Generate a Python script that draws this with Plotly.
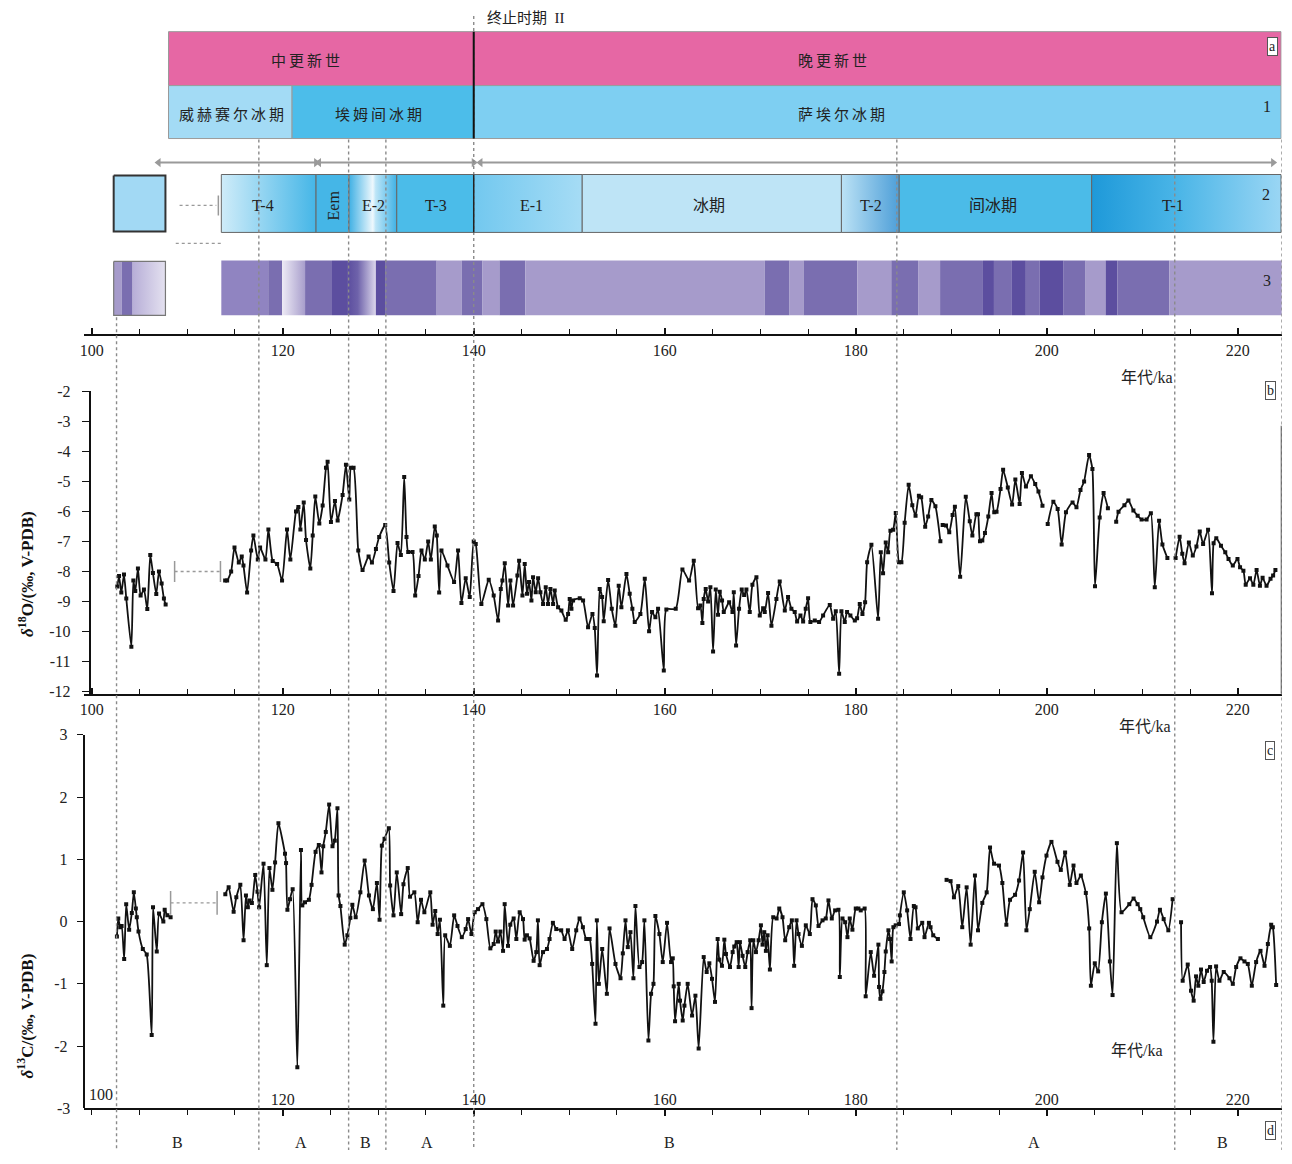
import plotly.graph_objects as go

# page is 1292x1164; the browser's default 8px body margin is kept, so the figure is 16px smaller
PAGE_W, PAGE_H, OFF = 1292, 1164, 8
FW, FH = PAGE_W - 2 * OFF, PAGE_H - 2 * OFF
# measured vertical calibration of the rendered page (rendered_row = K * page_row + C)
K, C = 0.989, 8.4

# ---------------- data: delta 18O (ka, permil) ----------------
o18_s1_age = [102.68, 102.86, 103.1, 103.38, 103.62, 104.15, 104.36, 104.56, 104.84, 105.12, 105.47,
              105.82, 106.13, 106.41, 106.76, 107.04, 107.32, 107.56, 107.74]
o18_s1_val = [-8.5, -8.15, -8.7, -8.1, -8.9, -10.5, -8.3, -8.65, -7.9, -8.8, -8.6,
              -9.25, -7.45, -8.05, -8.75, -8.0, -8.4, -8.9, -9.1]

o18_s2_age = [113.97, 114.18, 114.6, 114.95, 115.4, 115.71, 115.89, 116.27, 116.69, 116.93,
              117.39, 117.63, 118.19, 118.5, 118.95, 119.41, 119.93, 120.45, 120.8, 121.39,
              121.64, 121.85, 122.2, 122.44, 122.89, 123.14, 123.41, 123.83, 124.18, 124.53,
              124.7, 125.05, 125.47, 125.75, 126.27, 126.62, 126.97, 127.14, 127.42, 127.91,
              128.36, 128.99, 129.34, 129.76, 130.1, 130.73, 131.15, 131.6, 132.02, 132.37,
              132.72, 132.96, 133.14, 133.59, 133.87, 134.22, 134.53, 134.88, 135.23, 135.51,
              135.92, 136.13, 136.38, 136.62, 137.25, 137.94, 138.36, 138.71,
              139.16, 139.58, 140.0, 140.21, 140.8, 141.57, 142.09, 142.55, 142.83, 143.0,
              143.25, 143.6, 143.84, 144.12, 144.57, 144.75, 145.1, 145.34, 145.58, 145.79,
              146.04, 146.21, 146.49, 146.74, 146.98, 147.26, 147.54, 147.78, 148.03, 148.31,
              148.48, 148.83, 149.18, 149.63, 149.88, 150.05, 150.23, 150.4, 151.1, 151.45,
              151.97, 152.43, 152.67, 152.91, 153.19, 153.44, 153.61, 154.07, 154.45, 154.83,
              155.18, 155.46, 155.99, 156.33, 156.61, 156.86, 157.45, 157.91, 158.36, 158.67,
              159.02, 159.3, 159.9, 160.17, 161.15, 161.85, 162.55, 163.04, 163.49, 163.73,
              163.94, 164.08, 164.29, 164.54, 164.78, 165.06, 165.34, 165.58, 165.76, 166.0,
              166.18, 166.74, 167.09, 167.23, 167.47, 167.78, 168.06, 168.31, 168.55, 168.9,
              169.18, 169.6, 169.95, 170.3, 170.47, 170.82, 171.17, 171.69, 172.04, 172.57,
              172.91, 173.26, 173.61, 173.86, 174.21, 174.49, 174.76, 175.01, 175.25, 175.71,
              176.16, 176.58, 177.28, 177.63, 177.91, 178.26, 178.5, 178.85, 179.09, 179.44,
              179.9, 180.14, 180.42, 180.7, 180.98, 181.19, 181.64, 182.34, 182.62, 182.86,
              183.14, 183.39, 183.63, 183.91, 184.19,
              184.53, 184.78, 185.12, 185.54, 185.92, 186.26, 186.61, 186.85, 187.27, 187.58,
              187.92, 188.34, 188.86]
o18_s2_val = [-8.3, -8.3, -8.0, -7.2, -7.7, -7.5, -7.8, -8.7, -7.3, -6.8,
              -7.6, -7.2, -7.6, -6.6, -7.65, -7.75, -8.3, -6.6, -7.6, -6.0,
              -5.85, -6.6, -5.7, -6.95, -7.9, -6.8, -5.5, -6.4, -5.8, -4.55,
              -4.35, -6.35, -5.65, -6.3, -5.45, -4.45, -5.6, -4.55, -4.55, -7.3,
              -7.95, -7.5, -7.7, -7.25, -6.85, -6.45, -7.7, -8.65, -7.05, -7.45,
              -4.85, -6.85, -7.35, -7.35, -8.8, -8.15, -7.3, -7.6, -7.0, -7.6,
              -6.5, -6.8, -8.7, -7.3, -7.8, -8.35, -7.3, -9.05,
              -8.22, -8.85, -7.0, -7.08, -9.08, -8.27, -8.8, -9.63, -8.58, -8.3,
              -7.72, -9.13, -8.3, -9.13, -8.13, -7.64, -8.8, -7.75, -8.74, -8.35,
              -8.96, -8.19, -8.69, -8.22, -8.69, -9.08, -8.52, -9.08, -8.58, -9.08,
              -8.63, -9.19, -9.3, -9.6, -9.41, -8.91, -9.24, -8.96, -8.89, -8.96,
              -9.85, -9.41, -9.88, -11.46, -8.58, -8.85, -9.65, -8.28, -9.24, -9.8,
              -8.47, -9.19, -8.08, -8.74, -9.24, -9.68, -9.41, -8.24, -9.99, -9.35,
              -9.52, -9.24, -11.29, -9.26, -9.24, -7.93, -8.3, -7.64, -9.22, -9.13,
              -9.71, -8.91, -8.58, -9.0, -8.52, -10.66, -8.6, -9.44, -8.67, -8.96,
              -9.35, -9.02, -9.35, -8.69, -10.46, -9.24, -8.6, -8.78, -8.6, -9.35,
              -8.44, -8.19, -9.46, -9.22, -9.35, -8.71, -9.8, -8.91, -8.33, -9.3,
              -8.85, -9.24, -9.35, -9.66, -9.46, -9.66, -9.24, -8.89, -9.68, -9.63,
              -9.68, -9.46, -9.11, -9.57, -9.32, -11.4, -9.32, -9.68, -9.35, -9.46,
              -9.63, -9.55, -9.08, -9.41, -9.02, -7.69, -7.11, -9.57, -7.36, -8.06,
              -7.03, -7.36, -6.64, -6.61, -6.05,
              -7.69, -7.69, -6.38, -5.11, -5.79, -6.14, -5.48, -5.53, -6.51, -6.17,
              -5.62, -5.83, -6.99]

o18_s3_age = [189.1, 189.45, 189.79, 190.14, 190.38, 190.93, 191.52, 191.94, 192.21, 192.63,
              192.8, 193.01, 193.25, 193.53, 193.88, 194.22, 194.5, 194.74, 195.16, 195.43,
              195.92, 196.37, 196.71, 197.16, 197.4, 197.82, 198.34, 198.79, 199.13, 199.55]
o18_s3_val = [-6.45, -6.47, -6.69, -6.12, -5.84, -8.17, -5.51, -6.33, -6.8, -6.09,
              -6.09, -6.99, -6.97, -6.72, -6.17, -5.39, -6.03, -6.01, -5.25, -4.61,
              -5.2, -5.77, -4.94, -5.75, -4.72, -5.17, -4.83, -5.09, -5.34, -5.81]

o18_s4_age = [200.1, 200.69, 201.14, 201.56, 202.01, 202.7, 203.11, 203.53, 203.91, 204.43,
              204.78, 205.05, 205.54, 205.95, 206.4]
o18_s4_val = [-6.42, -5.68, -5.92, -7.1, -6.03, -5.7, -5.86, -5.29, -5.0, -4.12,
              -4.59, -8.49, -6.2, -5.39, -5.89]

o18_s5_age = [207.27, 207.51, 208.13, 208.55, 209.07, 209.52, 209.93, 210.45, 210.9, 211.31,
              211.76, 212.11, 212.63]
o18_s5_val = [-6.34, -6.01, -5.79, -5.64, -5.97, -6.14, -6.27, -6.27, -6.06, -8.52,
              -6.31, -7.1, -7.55]

o18_s6_age = [213.49, 213.91, 214.19, 214.43, 214.88, 215.29, 215.67, 216.02, 216.37, 216.89,
              217.3, 217.47, 217.75, 218.24, 218.69, 219.03, 219.48, 219.97, 220.24, 220.59,
              220.83, 221.28, 221.63, 221.97, 222.32, 222.6, 223.01, 223.43, 223.7, 223.94]
o18_s6_val = [-7.55, -6.84, -7.41, -7.72, -7.03, -7.47, -7.17, -6.67, -7.08, -6.61,
              -8.72, -7.06, -6.89, -7.14, -7.36, -7.58, -7.8, -7.58, -7.86, -7.97,
              -8.44, -8.22, -8.44, -7.95, -8.47, -8.21, -8.47, -8.24, -8.13, -7.95]

# ---------------- data: delta 13C (ka, permil) ----------------
c13_s1_age = [102.64, 102.78, 102.99, 103.13, 103.4, 103.61, 103.92, 104.2, 104.41, 104.62,
              104.72, 104.9, 105.35, 105.76, 106.28, 106.42, 106.81, 107.05, 107.5, 107.64,
              107.92, 108.26]
c13_s1_val = [-0.24, 0.05, -0.09, -0.07, -0.6, 0.28, -0.13, 0.14, 0.47, 0.21,
              0.07, -0.16, -0.44, -0.53, -1.82, 0.23, -0.48, 0.13, 0.0, 0.19,
              0.1, 0.07]

c13_s2_age = [113.99, 114.34, 114.86, 115.14, 115.56, 115.9, 116.15, 116.35, 116.53, 116.77,
              117.12, 117.36, 117.53, 117.99, 118.33, 118.61, 118.92, 119.2, 119.55, 120.24,
              120.35, 120.49, 120.76, 121.04, 121.53, 121.91, 122.05, 122.33, 122.74, 123.02,
              123.44, 123.78, 124.06, 124.24, 124.51, 124.86, 125.21, 125.45, 125.73, 125.85,
              126.04, 126.49, 126.77, 127.08, 127.29, 127.64, 128.13, 128.58, 129.03, 129.44,
              129.86, 130.14, 130.38, 130.66, 131.11, 131.25, 131.6, 131.94, 132.4, 132.64,
              133.09, 133.33, 133.78, 134.13, 134.48, 134.83, 135.45, 135.69, 135.97, 136.22,
              136.46, 136.81, 137.01, 137.5, 137.95, 138.3, 138.75,
              139.16, 139.41, 139.76, 140.1, 140.45, 140.91, 141.32, 141.74, 142.09, 142.3,
              142.54, 142.79, 143.07, 143.24, 143.59, 143.83, 144.18, 144.46, 144.81, 145.16,
              145.33, 145.57, 145.85, 146.27, 146.55, 146.72, 146.9, 147.25, 147.67, 147.94,
              148.29, 148.64, 149.16, 149.51, 149.86, 150.31, 150.73, 151.08, 151.43, 151.78,
              152.13, 152.4, 152.75, 152.89, 153.1, 153.45, 153.94, 154.22, 154.84, 155.37,
              155.61, 155.89, 156.13, 156.41, 156.72, 156.93, 157.35, 157.63, 157.87, 158.29,
              158.57, 158.82, 159.02, 159.44, 159.79, 160.24, 160.66, 160.84, 160.94, 161.08,
              161.46, 161.6, 161.88, 162.06, 162.4, 162.86, 163.21, 163.55, 164.08, 164.39,
              164.67, 164.95, 165.26, 165.54, 165.71, 165.99, 166.24, 166.41, 166.83, 167.11,
              167.28, 167.53, 167.74, 167.87, 168.15, 168.43, 168.68, 168.95, 169.09, 169.27,
              169.55, 169.83, 170.07, 170.24, 170.42, 170.59, 170.77, 171.01, 171.36, 171.71,
              171.99, 172.33, 172.61, 173.03, 173.31, 173.55, 173.8, 174.01, 174.36, 174.77,
              175.19, 175.47, 175.82, 176.1, 176.52, 176.86, 177.14, 177.49, 177.84, 178.19,
              178.33, 178.61, 178.89, 179.13, 179.37, 179.65, 180.0, 180.28, 180.52, 180.93,
              181.04, 181.57, 181.92, 182.37, 182.44, 182.58, 182.79, 183.0, 183.14, 183.42,
              183.59, 183.76, 183.94, 184.18, 184.53, 184.62, 185.03, 185.38, 185.73, 186.08,
              186.26, 186.5, 186.96, 187.2, 187.66, 187.83, 188.11, 188.6]
c13_s2_val = [0.44, 0.55, 0.16, 0.39, 0.59, -0.3, 0.42, 0.23, 0.34, 0.3,
              0.75, 0.48, 0.23, 0.93, -0.7, 0.86, 0.51, 0.95, 1.58, 1.09,
              0.94, 0.19, 0.36, 0.52, -2.34, 1.15, 0.26, 0.31, 0.35, 0.59,
              1.12, 1.23, 0.79, 1.21, 1.44, 1.88, 1.21, 1.3, 1.82, 0.42,
              0.25, -0.37, -0.22, 0.06, 0.27, 0.07, 0.47, 0.98, 0.42, 0.2,
              0.62, 0.03, 1.22, 1.33, 1.5, 0.58, 0.1, 0.79, 0.12, 0.6,
              0.86, 0.4, 0.47, -0.01, 0.35, 0.15, 0.47, -0.05, 0.17, -0.2,
              0.03, -1.35, -0.22, -0.39, 0.1, -0.07, -0.25,
              -0.12, 0.04, -0.2, 0.15, 0.2, 0.28, 0.04, -0.43, -0.36, -0.16,
              -0.32, -0.16, -0.47, 0.28, -0.39, -0.05, 0.05, -0.28, 0.15, 0.04,
              -0.29, -0.22, -0.27, -0.63, -0.49, 0.02, -0.7, -0.49, -0.44, -0.28,
              -0.02, -0.12, -0.14, -0.28, -0.14, -0.44, -0.14, 0.05, -0.09, -0.28,
              -0.28, -0.68, -1.64, 0.02, -1.0, -0.44, -1.16, -0.11, -0.68, -0.91,
              -0.51, 0.02, -0.41, -0.17, -0.91, 0.25, -0.73, -0.65, 0.02, -1.91,
              -1.16, -1.0, 0.09, -0.2, -0.65, -0.02, -0.65, -0.59, -1.04, -1.6,
              -1.0, -1.27, -1.59, -1.35, -1.0, -1.51, -1.19, -2.04, -0.57, -0.81,
              -0.67, -0.92, -1.29, -0.28, -0.61, -0.71, -0.29, -0.52, -0.73, -0.49,
              -0.4, -0.33, -0.73, -0.33, -0.55, -0.73, -0.49, -0.3, -1.39, -0.3,
              -0.49, -0.3, -0.06, -0.37, -0.17, -0.47, -0.22, -0.77, 0.07, 0.05,
              0.21, 0.07, -0.3, -0.09, 0.02, -0.71, 0.02, -0.2, -0.39, -0.06,
              -0.2, 0.36, 0.26, -0.07, 0.02, 0.05, 0.34, 0.05, 0.18, 0.19,
              -0.89, 0.05, -0.01, -0.25, 0.05, -0.13, 0.21, 0.21, 0.18, 0.21,
              -1.2, -0.49, -0.87, -0.37, -1.05, -1.24, -1.12, -0.81, -0.48, -0.14,
              -0.28, -0.64, -0.09, -0.06, -0.04, 0.1, 0.47, 0.18, -0.28, 0.25,
              0.23, -0.11, -0.02, -0.25, -0.02, -0.09, -0.22, -0.28]

c13_s3_age = [189.51, 189.93, 190.28, 190.73, 191.15, 191.61, 192.03, 192.48, 192.8, 193.25,
              193.71, 194.06, 194.48, 195.0, 195.35, 195.77, 196.15, 196.68, 197.1, 197.52,
              197.87, 198.22, 198.74, 199.2, 199.55, 199.97, 200.49, 201.12, 201.47, 201.92,
              202.41, 202.8, 203.11, 203.57, 204.09, 204.44, 204.62, 205.03, 205.38, 205.77,
              206.19, 206.61, 206.89, 207.34, 207.83, 208.64, 209.09, 209.51, 209.79, 210.1,
              210.84, 211.54, 211.85, 212.24, 212.73, 213.18]
c13_s3_val = [0.67, 0.65, 0.39, 0.57, -0.09, 0.55, -0.37, 0.74, -0.14, 0.3,
              0.47, 1.19, 0.93, 0.9, 0.62, -0.05, 0.35, 0.43, 0.66, 1.11,
              -0.14, 0.2, 0.8, 0.31, 0.71, 1.06, 1.28, 0.96, 0.83, 1.11,
              0.59, 0.9, 0.62, 0.74, 0.46, -0.11, -1.03, -0.67, -0.8, -0.01,
              0.45, -0.64, -1.18, 1.26, 0.15, 0.28, 0.37, 0.28, 0.2, 0.07,
              -0.25, 0.0, 0.19, 0.04, -0.14, 0.36]

c13_s4_age = [214.06, 214.23, 214.76, 215.1, 215.38, 215.63, 215.87, 216.15, 216.43, 216.78,
              217.1, 217.27, 217.45, 217.73, 218.08, 218.53, 219.13, 219.48, 219.83, 220.28,
              220.7, 221.05, 221.47, 221.92, 222.38, 222.8, 223.15, 223.5, 223.67, 224.02]
c13_s4_val = [-0.01, -0.95, -0.69, -1.11, -1.27, -0.88, -1.03, -0.77, -0.97, -0.79,
              -0.73, -0.95, -1.93, -0.72, -0.95, -0.81, -0.91, -1.0, -0.73, -0.59,
              -0.64, -0.68, -1.03, -0.65, -0.47, -0.71, -0.36, -0.05, -0.09, -1.02]

# unsampled interval markers (age from, age to, level)
o18_gap = [108.68, 113.48, -8.0]
c13_gap = [108.26, 113.13, 0.3]

# ---------------- stratigraphy ----------------
epoch_names = ["中\u2009更\u2009新\u2009世", "晚\u2009更\u2009新\u2009世"]
epoch_bounds = [108.04, 140.0, 224.53]
epoch_label_x = [122.34, 177.56]

stage_names = ["威\u2009赫\u2009赛\u2009尔\u2009冰\u2009期", "埃\u2009姆\u2009间\u2009冰\u2009期",
               "萨\u2009埃\u2009尔\u2009冰\u2009期"]
stage_bounds = [108.04, 120.98, 140.0, 224.53]
stage_label_x = [114.6, 130.06, 178.5]
stage_colors = ["#A3DBF5", "#4CBDEA", "#7ECFF2"]

sub_names = ["T-4", "Eem", "E-2", "T-3", "E-1", "冰期", "T-2", "间冰期", "T-1"]
sub_bounds = [113.57, 123.49, 126.93, 131.94, 139.98, 151.36, 178.5, 184.55, 204.7, 224.53]
sub_label_x = [117.95, 125.26, 129.54, 136.01, 146.03, 164.61, 181.63, 194.36, 213.26]
sub_scales = [
    [[0, "#CFECF9"], [1, "#45B6E7"]],
    [[0, "#45B6E7"], [1, "#45B6E7"]],
    [[0, "#3FB0E4"], [0.5, "#EEF8FD"], [0.56, "#BDE5F7"], [1, "#40B2E5"]],
    [[0, "#4BBCE9"], [1, "#4BBCE9"]],
    [[0, "#72C8EF"], [1, "#A6DCF5"]],
    [[0, "#BEE4F6"], [1, "#BEE4F6"]],
    [[0, "#BCE2F5"], [1, "#4E9FD8"]],
    [[0, "#4BBBE8"], [1, "#4BBBE8"]],
    [[0, "#1E99D9"], [0.45, "#4AB5E7"], [1, "#9AD6F4"]],
]

band3_bounds = [113.57, 118.48, 119.94, 122.34, 125.16, 126.83, 129.75, 130.79, 136.12, 138.73,
                140.92, 142.69, 145.41, 170.46, 173.07, 174.53, 180.17, 183.72, 186.53, 188.83,
                193.32, 194.47, 196.35, 197.81, 199.27, 201.77, 204.07, 206.16, 207.41, 212.84,
                224.63]
band3_kind = ["ML", "M", "gL", "M", "D", "gD", "D", "M", "L", "M",
              "L", "M", "L", "M", "L", "M", "L", "M", "L", "M",
              "D", "M", "D", "M", "D", "M", "L", "D", "M", "L"]
purple = {
    "L": [[0, "#A69BCB"], [1, "#A69BCB"]],
    "M": [[0, "#7A6EB0"], [1, "#7A6EB0"]],
    "D": [[0, "#5C4E9F"], [1, "#5C4E9F"]],
    "ML": [[0, "#9084C1"], [1, "#9084C1"]],
    "gL": [[0, "#EDEAF5"], [1, "#A89ECC"]],
    "gD": [[0, "#5C4E9F"], [0.35, "#6E62AA"], [1, "#DCD7EC"]],
    "gLeg": [[0, "#B7AED7"], [1, "#E4E1F0"]],
}
legend3_bounds = [102.3, 103.13, 104.28, 107.72]
legend3_kind = ["L", "M", "gLeg"]

boundary_ages = [102.6, 117.5, 126.9, 130.8, 140.0, 184.3, 213.4, 224.6]
boundary_top = [318, 140, 140, 140, 0, 140, 140, 140]

arrow_spans = [[107.0, 123.5], [123.8, 140.0], [140.7, 223.7]]

zone_labels = ["B", "A", "B", "A", "B", "A", "B"]
zone_x = [108.98, 121.92, 128.71, 135.07, 160.54, 198.64, 218.37]

tick_vals = [100, 120, 140, 160, 180, 200, 220]
tick_text = [str(v) for v in tick_vals]
o18_ticks = list(range(-2, -13, -1))
c13_ticks = list(range(3, -4, -1))

# ---------------- helpers ----------------
SERIF = "Liberation Serif, Noto Sans CJK SC, serif"
CJK = "Noto Sans CJK SC, Liberation Serif, sans-serif"

TOP_AXIS_ROW = 335
TOP_ROW = OFF * K + C   # reference row that lands on the top edge of the figure


def xp(px):
    """reference pixel column -> paper fraction"""
    return (px - OFF) / FW


def yp(px):
    """reference pixel row -> paper fraction"""
    page_row = (px - C) / K
    return 1 - (page_row - OFF) / FH


def join(*segs):
    xs, ys = [], []
    for i, (a, v) in enumerate(segs):
        assert len(a) == len(v), (i, len(a), len(v))
        if i:
            xs.append(None)
            ys.append(None)
        xs += a
        ys += v
    return xs, ys


def band(x0, x1, y0, y1, scale, lc="rgba(80,80,80,0.85)", lw=1):
    return go.Scatter(x=[x0, x1, x1, x0, x0], y=[y0, y0, y1, y1, y0], mode="lines",
                      fill="toself", fillcolor=scale[0][1],
                      fillgradient=dict(type="horizontal", colorscale=scale),
                      line=dict(color=lc, width=lw), hoverinfo="skip",
                      showlegend=False, xaxis="x", yaxis="y")


X_RANGE = [99.2, 224.6]
X_DOMAIN = [xp(80.3), xp(1281.7)]

fig = go.Figure()

for i in range(len(epoch_names)):
    fig.add_trace(band(epoch_bounds[i], epoch_bounds[i + 1], 32, 86,
                       [[0, "#E667A4"], [1, "#E667A4"]], lc="#9a9a9a"))
for i in range(len(stage_names)):
    fig.add_trace(band(stage_bounds[i], stage_bounds[i + 1], 86, 139,
                       [[0, stage_colors[i]], [1, stage_colors[i]]], lc="#9a9a9a"))
fig.add_trace(band(102.3, 107.72, 176, 232, [[0, "#A2D9F4"], [1, "#A2D9F4"]], lc="#333", lw=2))
for i in range(len(sub_names)):
    fig.add_trace(band(sub_bounds[i], sub_bounds[i + 1], 175, 233, sub_scales[i], lc="#666"))
for i, k in enumerate(legend3_kind):
    fig.add_trace(band(legend3_bounds[i], legend3_bounds[i + 1], 262, 316, purple[k], lc="rgba(0,0,0,0)"))
fig.add_trace(go.Scatter(x=[legend3_bounds[0], legend3_bounds[-1], legend3_bounds[-1], legend3_bounds[0], legend3_bounds[0]],
                         y=[262, 262, 316, 316, 262], mode="lines", line=dict(color="#777", width=1.2),
                         hoverinfo="skip", showlegend=False, xaxis="x", yaxis="y"))
for i, k in enumerate(band3_kind):
    fig.add_trace(band(band3_bounds[i], band3_bounds[i + 1], 261, 316, purple[k], lc="rgba(0,0,0,0)"))

for a0, a1 in arrow_spans:
    fig.add_trace(go.Scatter(x=[a0, a1], y=[163, 163], mode="lines+markers",
                             line=dict(color="#9a9a9a", width=1.8),
                             marker=dict(symbol=["triangle-left", "triangle-right"], size=8, color="#9a9a9a"),
                             hoverinfo="skip", showlegend=False, xaxis="x", yaxis="y"))

ox, oy = join((o18_s1_age, o18_s1_val), (o18_s2_age, o18_s2_val), (o18_s3_age, o18_s3_val),
              (o18_s4_age, o18_s4_val), (o18_s5_age, o18_s5_val), (o18_s6_age, o18_s6_val))
cx, cy = join((c13_s1_age, c13_s1_val), (c13_s2_age, c13_s2_val),
              (c13_s3_age, c13_s3_val), (c13_s4_age, c13_s4_val))

line_style = dict(color="#111", width=1.8, shape="spline", smoothing=0.55)
marker_style = dict(symbol="square", size=4, color="#111")
fig.add_trace(go.Scatter(x=ox, y=oy, mode="lines+markers", line=line_style, marker=marker_style,
                         xaxis="x2", yaxis="y2", showlegend=False, hoverinfo="skip"))
fig.add_trace(go.Scatter(x=cx, y=cy, mode="lines+markers", line=line_style, marker=marker_style,
                         xaxis="x3", yaxis="y3", showlegend=False, hoverinfo="skip"))

shapes = []
for a, top in zip(boundary_ages, boundary_top):
    shapes.append(dict(type="line", xref="x", yref="paper", x0=a, x1=a, y0=min(yp(top), 1.0), y1=0,
                       line=dict(color="#8a8a8a", width=1.4, dash="dot"), layer="above"))
shapes.append(dict(type="line", xref="x", yref="y", x0=140.0, x1=140.0, y0=32, y1=139,
                   line=dict(color="#111", width=2)))
shapes.append(dict(type="line", xref="x", yref="y", x0=140.0, x1=140.0, y0=175, y1=233,
                   line=dict(color="#222", width=1.5)))
shapes.append(dict(type="line", xref="x", yref="y", x0=109.2, x1=113.05, y0=206, y1=206,
                   line=dict(color="#999", width=1.2, dash="dot")))
shapes.append(dict(type="line", xref="x", yref="y", x0=113.26, x1=113.26, y0=196, y1=216,
                   line=dict(color="#999", width=1.5)))
shapes.append(dict(type="line", xref="x", yref="y", x0=108.8, x1=113.57, y0=244, y1=244,
                   line=dict(color="#999", width=1.2, dash="dot")))
for (a0, a1, lv), xr, yr, hb in [(o18_gap, "x2", "y2", 0.35), (c13_gap, "x3", "y3", 0.19)]:
    shapes.append(dict(type="line", xref=xr, yref=yr, x0=a0, x1=a1, y0=lv, y1=lv,
                       line=dict(color="#999", width=1.4, dash="dot")))
    for a in (a0, a1):
        shapes.append(dict(type="line", xref=xr, yref=yr, x0=a, x1=a, y0=lv - hb, y1=lv + hb,
                           line=dict(color="#999", width=1.5)))
shapes.append(dict(type="line", xref="x2", yref="y2", x0=224.6, x1=224.6, y0=-3.15, y1=-12.07,
                   line=dict(color="#555", width=2)))


def A(**kw):
    kw.setdefault("showarrow", False)
    kw.setdefault("xanchor", "center")
    kw.setdefault("yanchor", "middle")
    return kw


ann = []
for name, x in zip(epoch_names, epoch_label_x):
    ann.append(A(x=x, y=60, xref="x", yref="y", text=name, font=dict(family=CJK, size=15, color="#222")))
for name, x in zip(stage_names, stage_label_x):
    ann.append(A(x=x, y=114, xref="x", yref="y", text=name, font=dict(family=CJK, size=15, color="#222")))
for name, x in zip(sub_names, sub_label_x):
    ann.append(A(x=x, y=206, xref="x", yref="y", text=name, textangle=-90 if name == "Eem" else 0,
                 font=dict(family=SERIF, size=16, color="#222")))
ann.append(A(x=141.2, y=18, xref="x", yref="y", xanchor="left", text="终止时期  II",
             font=dict(family=SERIF, size=15, color="#222")))
for t, (px, pyy) in zip(["1", "2", "3"], [(1267, 107), (1266, 195), (1267, 281)]):
    ann.append(A(x=xp(px), y=yp(pyy), xref="paper", yref="paper", text=t,
                 font=dict(family=SERIF, size=16, color="#222")))
for t, (px, pyy) in zip(["a", "b", "c", "d"], [(1272, 47), (1270, 391), (1270, 752), (1270, 1132)]):
    ann.append(A(x=xp(px), y=yp(pyy), xref="paper", yref="paper", text=t,
                 bordercolor="#555", borderwidth=1, borderpad=1, bgcolor="white",
                 font=dict(family=SERIF, size=14, color="#222")))
for px, pyy in [(1147, 378), (1145, 728), (1137, 1052)]:
    ann.append(A(x=xp(px), y=yp(pyy), xref="paper", yref="paper", text="年代/ka",
                 font=dict(family=SERIF, size=16, color="#222")))
ann.append(A(x=xp(22), y=yp(575), xref="paper", yref="paper", textangle=-90,
             text="<b><i>δ</i><sup>18</sup>O/(‰, V-PDB)</b>", font=dict(family=SERIF, size=17, color="#111")))
ann.append(A(x=xp(22), y=yp(1017), xref="paper", yref="paper", textangle=-90,
             text="<b><i>δ</i><sup>13</sup>C/(‰, V-PDB)</b>", font=dict(family=SERIF, size=17, color="#111")))
for t, x in zip(zone_labels, zone_x):
    ann.append(A(x=x, y=yp(1144), xref="x3", yref="paper", text=t, font=dict(family=SERIF, size=16, color="#222")))
ann.append(A(x=101.0, y=-3, xref="x3", yref="y3", yanchor="bottom", yshift=3, text="100",
             font=dict(family=SERIF, size=16, color="#222")))
ann.append(A(x=xp(60), y=yp(1110), xref="paper", yref="paper", text="-3",
             font=dict(family=SERIF, size=16, color="#222")))

tickfont = dict(family=SERIF, size=16, color="#222")
xbase = dict(domain=X_DOMAIN, range=X_RANGE, showline=True, linecolor="#111", linewidth=2,
             ticks="inside", ticklen=6, tickwidth=1.6, tickcolor="#111",
             tickvals=tick_vals, ticktext=tick_text, showgrid=False, zeroline=False,
             tickfont=tickfont,
             minor=dict(tick0=100, dtick=5, ticks="inside", ticklen=5, tickwidth=1.2, tickcolor="#111"))

fig.update_layout(
    width=FW, height=FH, margin=dict(l=0, r=0, t=0, b=0),
    paper_bgcolor="white", plot_bgcolor="rgba(0,0,0,0)", showlegend=False,
    xaxis=dict(**xbase, anchor="y"),
    yaxis=dict(domain=[yp(TOP_AXIS_ROW), 1], range=[TOP_AXIS_ROW, TOP_ROW], visible=False),
    xaxis2=dict(**xbase, anchor="y2"),
    yaxis2=dict(domain=[yp(695), yp(392)], range=[-12.07, -2], anchor="free", position=xp(86),
                showline=True, linecolor="#111", linewidth=2, ticks="outside", ticklen=7,
                tickcolor="#111", tickvals=o18_ticks, ticktext=[str(v) for v in o18_ticks],
                ticklabelstandoff=8,
                showgrid=False, zeroline=False, tickfont=tickfont),
    xaxis3=dict(**{**xbase, "ticks": "outside", "ticklen": 6,
                   "tickvals": tick_vals[1:], "ticktext": tick_text[1:],
                   "minor": dict(tick0=100, dtick=5, ticks="outside", ticklen=5, tickwidth=1.2,
                                 tickcolor="#111")},
                anchor="y3", ticklabelposition="inside"),
    yaxis3=dict(domain=[yp(1110), yp(736)], range=[-3, 3], anchor="free", position=xp(80),
                showline=True, linecolor="#111", linewidth=2, ticks="outside", ticklen=6,
                tickcolor="#111", tickvals=c13_ticks[:-1], ticktext=[str(v) for v in c13_ticks[:-1]],
                ticklabelstandoff=6,
                showgrid=False, zeroline=False, tickfont=tickfont),
    shapes=shapes, annotations=ann,
)

fig.write_html("out.html", config={"displayModeBar": False})
